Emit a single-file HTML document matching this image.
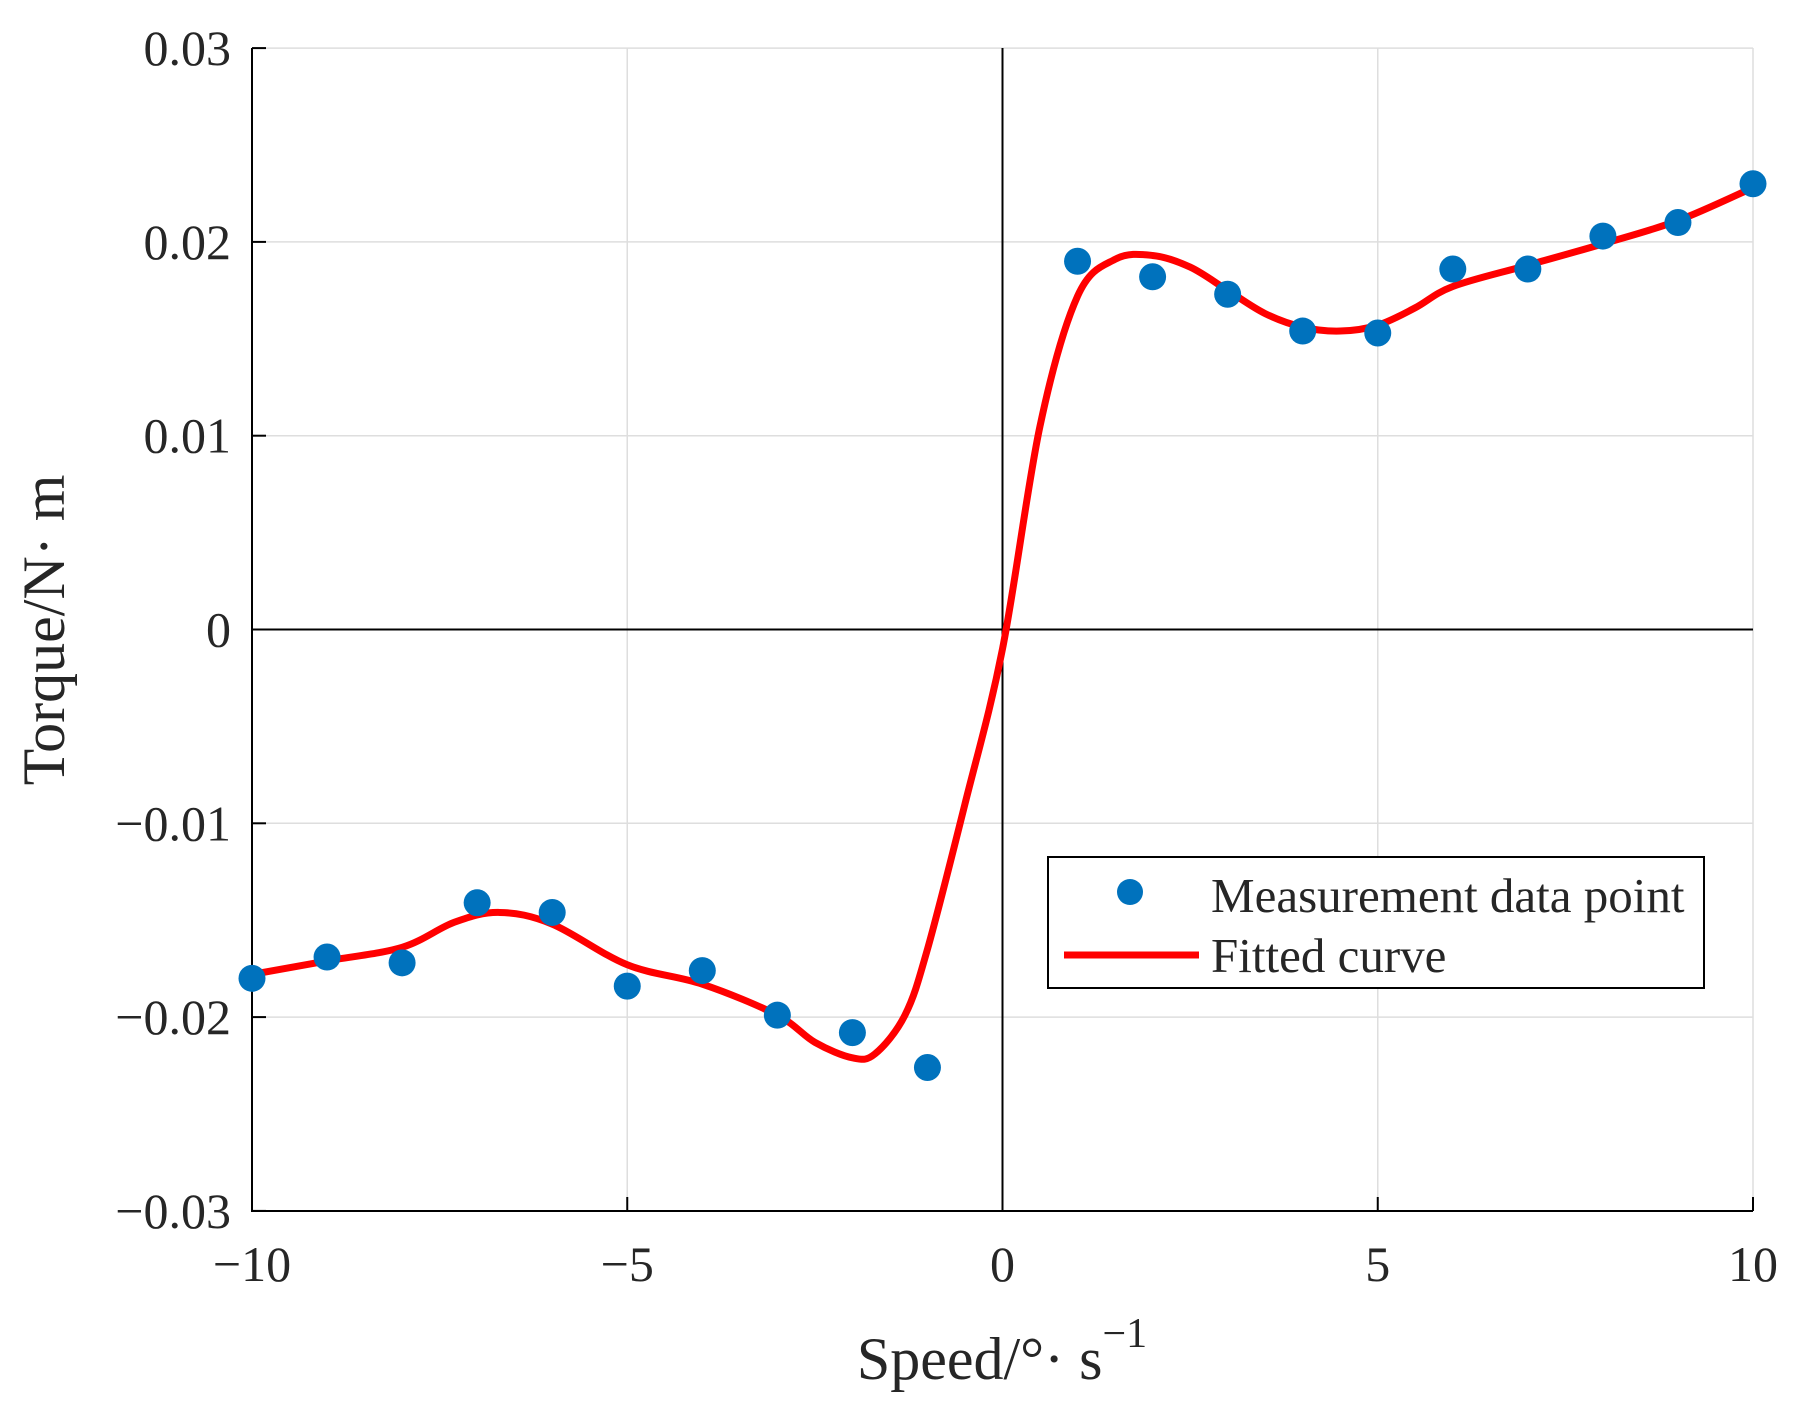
<!DOCTYPE html>
<html><head><meta charset="utf-8"><style>
html,body{margin:0;padding:0;background:#fff}
svg{display:block}
text{font-family:"Liberation Serif",serif;fill:#262626}
</style></head><body>
<svg id="s" width="1800" height="1413" viewBox="0 0 1800 1413" xmlns="http://www.w3.org/2000/svg">
<g id="grid" stroke="#dedede" stroke-width="1.5"></g>
<line x1="1002.5" y1="48" x2="1002.5" y2="1211" stroke="#000" stroke-width="2"/>
<line x1="252" y1="629.5" x2="1753" y2="629.5" stroke="#000" stroke-width="2"/>
<line x1="252" y1="48" x2="252" y2="1212" stroke="#000" stroke-width="2"/>
<line x1="251" y1="1211" x2="1753" y2="1211" stroke="#000" stroke-width="2"/>
<g id="ticks" stroke="#000" stroke-width="2"></g>
<g id="labels" font-size="50"></g>
<path id="curve" fill="none" stroke="#ff0000" stroke-width="7" stroke-linejoin="round" stroke-linecap="round"/>
<g id="pts" fill="#0072bd"></g>
<text x="1002" y="1379" font-size="60" text-anchor="middle">Speed/°· s<tspan font-size="42" dy="-32">−1</tspan></text>
<text transform="translate(64,630) rotate(-90)" font-size="60" text-anchor="middle">Torque/N· m</text>
<rect x="1048" y="857" width="656" height="131" fill="#fff" stroke="#000" stroke-width="2"/>
<circle cx="1130" cy="892" r="13" fill="#0072bd"/>
<line x1="1064" y1="955" x2="1199" y2="955" stroke="#ff0000" stroke-width="7"/>
<text x="1211" y="912" font-size="49">Measurement data point</text>
<text x="1211" y="972" font-size="49">Fitted curve</text>
</svg>
<script>
var NS="http://www.w3.org/2000/svg";
function X(v){return 1002.5+v*75.05}
function Y(v){return 629.5-v*19380}
function el(p,t,a,txt){var e=document.createElementNS(NS,t);for(var k in a)e.setAttribute(k,a[k]);if(txt!=null)e.textContent=txt;document.getElementById(p).appendChild(e);return e}
[-10,-5,0,5,10].forEach(function(v){var x=X(v);el("grid","line",{x1:x,y1:48,x2:x,y2:1211});el("ticks","line",{x1:x,y1:1211,x2:x,y2:1197});
el("labels","text",{x:x,y:1281,"text-anchor":"middle"},v<0?"−"+(-v):""+v)});
[-0.03,-0.02,-0.01,0,0.01,0.02,0.03].forEach(function(v){var y=Y(v);el("grid","line",{x1:252,y1:y,x2:1753,y2:y});el("ticks","line",{x1:252,y1:y,x2:266,y2:y});
var s=v==0?"0":(v<0?"−":"")+Math.abs(v).toFixed(2);el("labels","text",{x:231,y:y+17,"text-anchor":"end"},s)});
var c=[[-10,-0.0178],[-9,-0.0171],[-8,-0.0164],[-7.3,-0.0151],[-6.7,-0.0146],[-6,-0.0152],[-5,-0.0173],[-4,-0.0183],[-3,-0.0199],[-2.5,-0.0213],[-2,-0.0221],[-1.7,-0.0219],[-1.3,-0.0199],[-1,-0.0165],[-0.5,-0.009],[0,-0.001],[0.5,0.0105],[1,0.0172],[1.5,0.0191],[2,0.0193],[2.5,0.0187],[3,0.0175],[3.5,0.0163],[4,0.0156],[4.5,0.0154],[5,0.0157],[5.5,0.0166],[6,0.0177],[7,0.0188],[8,0.0199],[9,0.0211],[10,0.0228]];
var P=c.map(function(p){return[X(p[0]),Y(p[1])]});
var d="M"+P[0][0]+","+P[0][1];
for(var i=0;i<P.length-1;i++){var p0=P[Math.max(0,i-1)],p1=P[i],p2=P[i+1],p3=P[Math.min(P.length-1,i+2)];
d+=" C"+(p1[0]+(p2[0]-p0[0])/6)+","+(p1[1]+(p2[1]-p0[1])/6)+" "+(p2[0]-(p3[0]-p1[0])/6)+","+(p2[1]-(p3[1]-p1[1])/6)+" "+p2[0]+","+p2[1];}
document.getElementById("curve").setAttribute("d",d);
var pts=[[-10,-0.018],[-9,-0.0169],[-8,-0.0172],[-7,-0.0141],[-6,-0.0146],[-5,-0.0184],[-4,-0.0176],[-3,-0.0199],[-2,-0.0208],[-1,-0.0226],[1,0.0190],[2,0.0182],[3,0.0173],[4,0.0154],[5,0.0153],[6,0.0186],[7,0.0186],[8,0.0203],[9,0.0210],[10,0.0230]];
pts.forEach(function(p){el("pts","circle",{cx:X(p[0]),cy:Y(p[1]),r:13.5})});
</script>
</body></html>
